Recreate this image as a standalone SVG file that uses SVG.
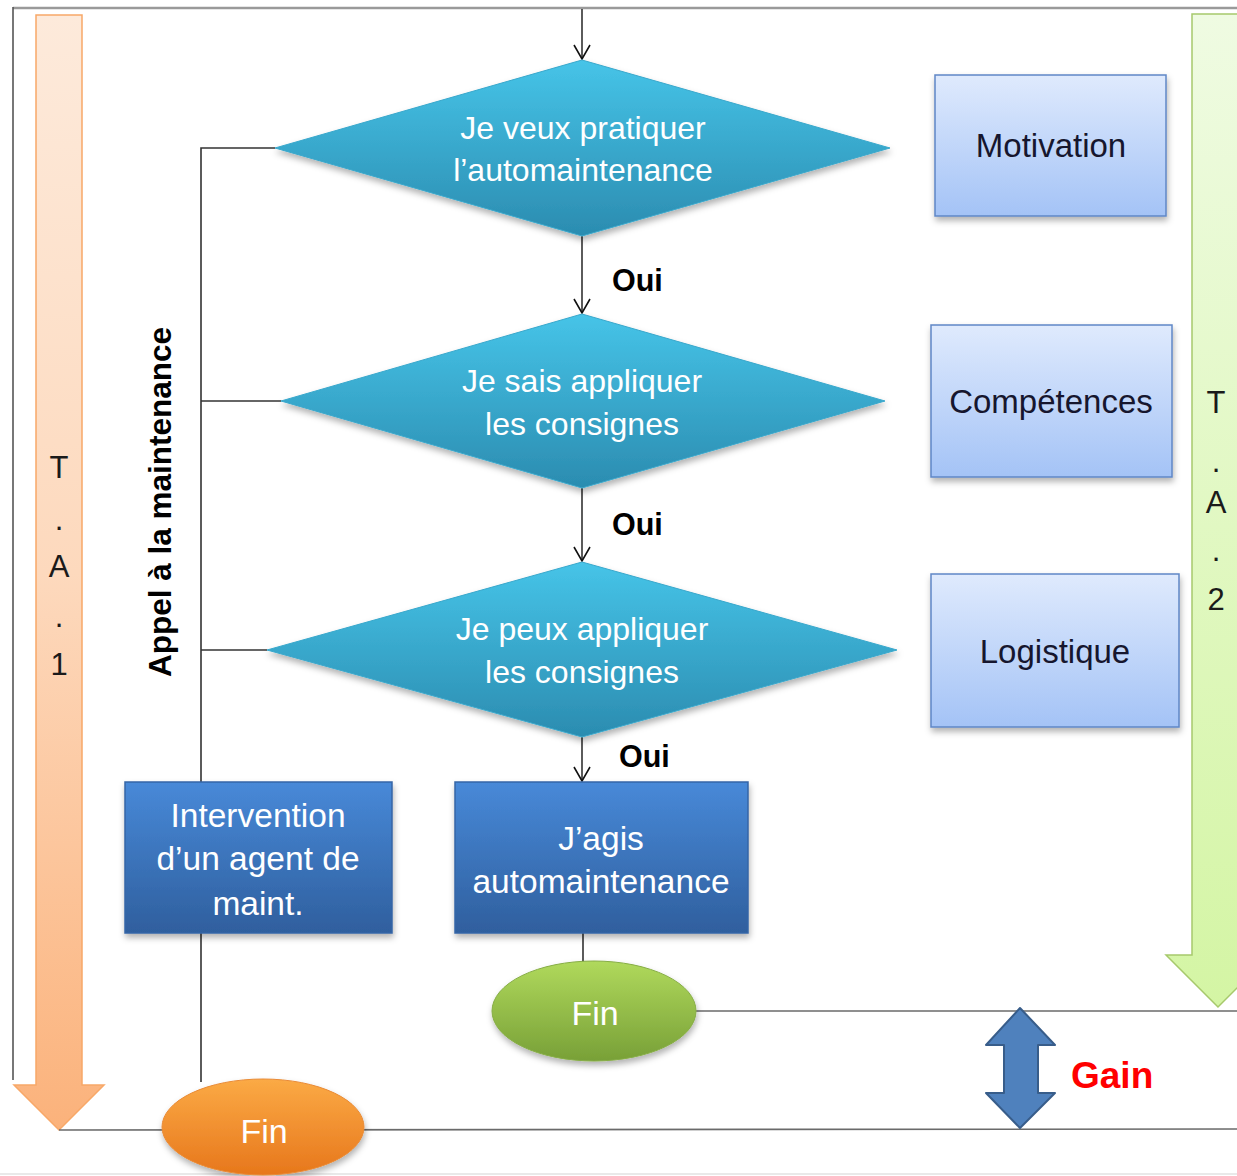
<svg xmlns="http://www.w3.org/2000/svg" width="1237" height="1176" viewBox="0 0 1237 1176">
<style>
.t{font-family:"Liberation Sans",Arial,sans-serif}
.w{fill:#ffffff;font-size:32px;text-anchor:middle}
.wb{fill:#ffffff;font-size:33.5px;text-anchor:middle}
.k{fill:#16162e;font-size:33px;text-anchor:middle}
.ta{fill:#1a1a1a;font-size:31px;text-anchor:middle}
.oui{fill:#000;font-size:30.5px;font-weight:bold}
.ln{stroke:#333;stroke-width:1.6;fill:none}
.lg{stroke:#6a6a6a;stroke-width:1.6;fill:none}
.dia{fill:url(#gDia);stroke:#3aa8cc;stroke-width:1;filter:url(#sh)}
.bb{fill:url(#gBlue);stroke:#3565a6;stroke-width:1.5;filter:url(#sh)}
.lb{fill:url(#gLight);stroke:#5f87c6;stroke-width:1.5;filter:url(#sh)}
</style>
<defs>
<linearGradient id="gDia" x1="0" y1="0" x2="0" y2="1"><stop offset="0" stop-color="#46c4e8"/><stop offset="1" stop-color="#2b8cb0"/></linearGradient>
<linearGradient id="gBlue" x1="0" y1="0" x2="0" y2="1"><stop offset="0" stop-color="#4889d8"/><stop offset="1" stop-color="#2f5f9e"/></linearGradient>
<linearGradient id="gLight" x1="0" y1="0" x2="0" y2="1"><stop offset="0" stop-color="#dfeafd"/><stop offset="1" stop-color="#a4c3f6"/></linearGradient>
<linearGradient id="gGreen" x1="0" y1="0" x2="0" y2="1"><stop offset="0" stop-color="#b0d95c"/><stop offset="1" stop-color="#78a037"/></linearGradient>
<linearGradient id="gOrange" x1="0" y1="0" x2="0" y2="1"><stop offset="0" stop-color="#fbaa45"/><stop offset="1" stop-color="#e7771c"/></linearGradient>
<linearGradient id="gTA1" x1="0" y1="0" x2="0" y2="1"><stop offset="0" stop-color="#fdeadb"/><stop offset="0.5" stop-color="#fdd9bd"/><stop offset="1" stop-color="#fbb27b"/></linearGradient>
<linearGradient id="gTA2" x1="0" y1="0" x2="0" y2="1"><stop offset="0" stop-color="#effbe2"/><stop offset="1" stop-color="#d4f5a4"/></linearGradient>
<filter id="sh" x="-10%" y="-10%" width="125%" height="135%"><feDropShadow dx="1" dy="4" stdDeviation="3" flood-color="#000" flood-opacity="0.3"/></filter>
<marker id="arr" viewBox="0 0 16 18" refX="15" refY="9" markerWidth="16" markerHeight="18" markerUnits="userSpaceOnUse" orient="auto"><path d="M1,1 L15,9 L1,17" fill="none" stroke="#111" stroke-width="1.6"/></marker>
</defs>

<g id="frame">
<line x1="13" y1="8" x2="1237" y2="8" stroke="#9a9a9a" stroke-width="2.5"/>
<line x1="13" y1="7" x2="13" y2="1080" stroke="#555" stroke-width="1.6"/>
<line x1="0" y1="1174" x2="1237" y2="1174" stroke="#e2e2e2" stroke-width="1.5"/>
</g>

<g id="ta1">
<path d="M36,15 H82 V1085 H104 L59,1130 L14,1085 H36 Z" fill="url(#gTA1)" stroke="#f8a868" stroke-width="1.5"/>
<text class="t ta" x="59" y="478">T</text>
<text class="t ta" x="59" y="530">.</text>
<text class="t ta" x="59" y="577">A</text>
<text class="t ta" x="59" y="627">.</text>
<text class="t ta" x="59" y="675">1</text>
</g>

<g id="ta2">
<path d="M1192,14 H1244 V955 H1270 L1218,1007 L1166,955 H1192 Z" fill="url(#gTA2)" stroke="#a7c96c" stroke-width="1.5"/>
<text class="t ta" x="1216" y="413">T</text>
<text class="t ta" x="1216" y="472">.</text>
<text class="t ta" x="1216" y="513">A</text>
<text class="t ta" x="1216" y="561">.</text>
<text class="t ta" x="1216" y="610">2</text>
</g>

<g id="connectors">
<line class="ln" x1="582" y1="9" x2="582" y2="59" marker-end="url(#arr)"/>
<line class="ln" x1="582" y1="236" x2="582" y2="313" marker-end="url(#arr)"/>
<line class="ln" x1="582" y1="488" x2="582" y2="561" marker-end="url(#arr)"/>
<line class="ln" x1="582" y1="737" x2="582" y2="781" marker-end="url(#arr)"/>
<polyline class="ln" points="275,148 201,148 201,782"/>
<line class="ln" x1="201" y1="401" x2="281" y2="401"/>
<line class="ln" x1="201" y1="650" x2="267" y2="650"/>
<line class="ln" x1="201" y1="933" x2="201" y2="1082"/>
<line class="ln" x1="583" y1="933" x2="583" y2="962"/>
<line class="lg" x1="695" y1="1011" x2="1237" y2="1011"/>
<line class="lg" x1="59" y1="1130" x2="1237" y2="1129"/>
</g>

<g id="label-appel">
<text class="t" x="160" y="513" transform="rotate(-90 160 502)" font-size="31.5" font-weight="bold" text-anchor="middle" fill="#000">Appel à la maintenance</text>
</g>

<g id="d1">
<polygon class="dia" points="582,60 890,148 582,236 275,148"/>
<text class="t w" x="583" y="139">Je veux pratiquer</text>
<text class="t w" x="583" y="181">l’automaintenance</text>
</g>
<g id="d2">
<polygon class="dia" points="582,314 885,401 582,488 281,401"/>
<text class="t w" x="582" y="392">Je sais appliquer</text>
<text class="t w" x="582" y="435">les consignes</text>
</g>
<g id="d3">
<polygon class="dia" points="582,562 897,650 582,737 267,650"/>
<text class="t w" x="582" y="640">Je peux appliquer</text>
<text class="t w" x="582" y="683">les consignes</text>
</g>

<g id="oui-labels">
<text class="t oui" x="612" y="291">Oui</text>
<text class="t oui" x="612" y="535">Oui</text>
<text class="t oui" x="619" y="767">Oui</text>
</g>

<g id="motivation">
<rect class="lb" x="935" y="75" width="231" height="141"/>
<text class="t k" x="1051" y="157">Motivation</text>
</g>
<g id="competences">
<rect class="lb" x="931" y="325" width="241" height="152"/>
<text class="t k" x="1051" y="413">Compétences</text>
</g>
<g id="logistique">
<rect class="lb" x="931" y="574" width="248" height="153"/>
<text class="t k" x="1055" y="663">Logistique</text>
</g>

<g id="intervention">
<rect class="bb" x="125" y="782" width="267" height="151"/>
<text class="t wb" x="258" y="827">Intervention</text>
<text class="t wb" x="258" y="870">d’un agent de</text>
<text class="t wb" x="258" y="915">maint.</text>
</g>
<g id="jagis">
<rect class="bb" x="455" y="782" width="293" height="151"/>
<text class="t wb" x="601" y="850">J’agis</text>
<text class="t wb" x="601" y="893">automaintenance</text>
</g>

<g id="fin-green">
<ellipse cx="594" cy="1011" rx="102" ry="50" fill="url(#gGreen)" stroke="#86ad45" stroke-width="1" filter="url(#sh)"/>
<text class="t" x="595" y="1025" font-size="34" fill="#fff" text-anchor="middle">Fin</text>
</g>
<g id="fin-orange">
<ellipse cx="263" cy="1127" rx="101" ry="48" fill="url(#gOrange)" stroke="#e98a35" stroke-width="1" filter="url(#sh)"/>
<text class="t" x="264" y="1143" font-size="34" fill="#fff" text-anchor="middle">Fin</text>
</g>

<g id="gain">
<path d="M1020,1008 L1055,1045 H1038 V1093 H1055 L1020,1128 L986,1093 H1004 V1045 H986 Z" fill="#4f81bd" stroke="#385d8a" stroke-width="2" stroke-linejoin="round"/>
<text class="t" x="1071" y="1088" font-size="37" font-weight="bold" fill="#ff0000">Gain</text>
</g>
</svg>
